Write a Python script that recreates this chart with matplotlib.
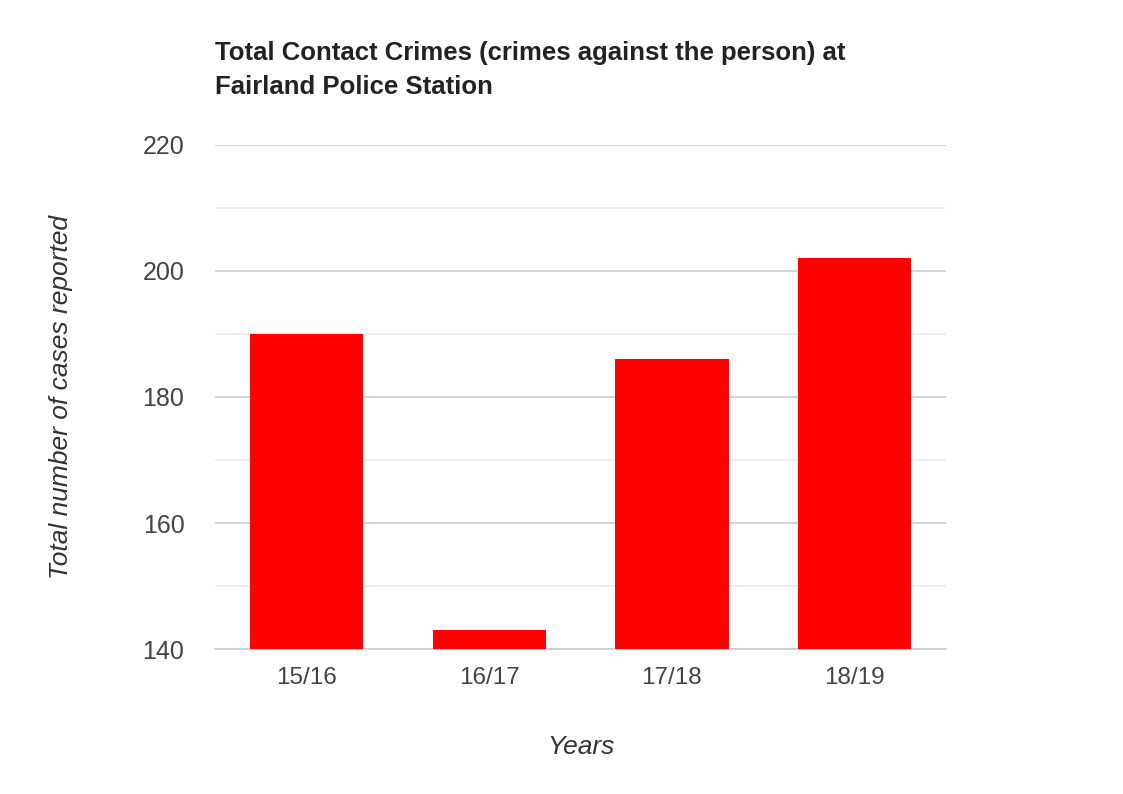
import matplotlib.pyplot as plt
import numpy as np

plt.rcParams['font.family'] = ['Liberation Sans', 'DejaVu Sans']

years = ['15/16', '16/17', '17/18', '18/19']
cases = [190, 143, 186, 202]

fig = plt.figure(figsize=(11.23, 7.94), dpi=100)
ax = fig.add_axes([0.1915, 0.1826, 0.6509, 0.6348])

x = np.arange(len(years))
ax.bar(x, cases, width=0.62, color='#ff0000', zorder=3)

ax.set_xlim(-0.5, len(years) - 0.5)
ax.set_ylim(140, 220)
ax.set_yticks([140, 160, 180, 200, 220])
ax.set_yticks([150, 170, 190, 210], minor=True)
ax.set_xticks(x)
ax.set_xticklabels(years)

ax.grid(axis='y', which='major', color='#cccccc', linewidth=1.2, zorder=0)
ax.grid(axis='y', which='minor', color='#ebebeb', linewidth=1.2, zorder=0)
for s in ['top', 'right', 'left']:
    ax.spines[s].set_visible(False)
ax.spines['bottom'].set_color('#cccccc')
ax.spines['bottom'].set_linewidth(1.2)
ax.tick_params(axis='both', which='both', length=0, labelcolor='#444444')
ax.tick_params(axis='y', labelsize=18, pad=22)
ax.tick_params(axis='x', labelsize=17.5, pad=13)

ax.set_xlabel('Years', fontsize=19, style='italic', color='#333333', labelpad=33)
ax.set_ylabel('Total number of cases reported', fontsize=19, style='italic',
              color='#333333', labelpad=50)

fig.text(215 / 1123, 1 - 41 / 794,
         'Total Contact Crimes (crimes against the person) at\nFairland Police Station',
         fontsize=18.5, fontweight='bold', color='#222222', va='top', ha='left',
         linespacing=1.55)

fig.savefig('out.png', dpi=100)
